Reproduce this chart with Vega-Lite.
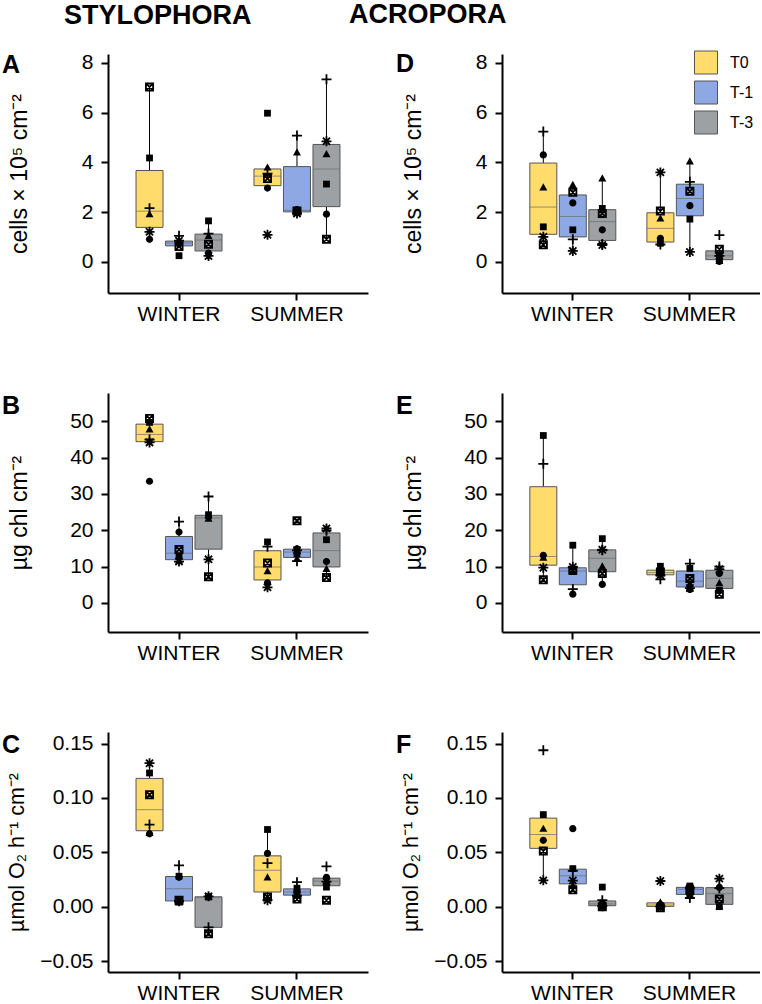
{
 "$schema": "https://vega.github.io/schema/vega-lite/v6.json",
 "background": "white",
 "padding": {"left": 2, "top": 0, "right": 0, "bottom": 0},
 "datasets": {
  "obs": [
   {"p":"A","s":"WINTER","t":"T0","i":"bx","v":7.03},{"p":"A","s":"WINTER","t":"T0","i":"sq","v":4.18},{"p":"A","s":"WINTER","t":"T0","i":"pl","v":2.16},{"p":"A","s":"WINTER","t":"T0","i":"tr","v":1.92},{"p":"A","s":"WINTER","t":"T0","i":"as","v":1.21},{"p":"A","s":"WINTER","t":"T0","i":"ci","v":0.91},
   {"p":"A","s":"WINTER","t":"T-1","i":"pl","v":1.05},{"p":"A","s":"WINTER","t":"T-1","i":"as","v":0.85},{"p":"A","s":"WINTER","t":"T-1","i":"tr","v":0.8},{"p":"A","s":"WINTER","t":"T-1","i":"ci","v":0.72},{"p":"A","s":"WINTER","t":"T-1","i":"bx","v":0.62},{"p":"A","s":"WINTER","t":"T-1","i":"sq","v":0.25},
   {"p":"A","s":"WINTER","t":"T-3","i":"sq","v":1.65},{"p":"A","s":"WINTER","t":"T-3","i":"pl","v":1.14},{"p":"A","s":"WINTER","t":"T-3","i":"tr","v":1.05},{"p":"A","s":"WINTER","t":"T-3","i":"bx","v":0.71},{"p":"A","s":"WINTER","t":"T-3","i":"ci","v":0.35},{"p":"A","s":"WINTER","t":"T-3","i":"as","v":0.24},
   {"p":"A","s":"SUMMER","t":"T0","i":"sq","v":5.98},{"p":"A","s":"SUMMER","t":"T0","i":"tr","v":3.8},{"p":"A","s":"SUMMER","t":"T0","i":"pl","v":3.55},{"p":"A","s":"SUMMER","t":"T0","i":"bx","v":3.35},{"p":"A","s":"SUMMER","t":"T0","i":"ci","v":2.97},{"p":"A","s":"SUMMER","t":"T0","i":"as","v":1.09},
   {"p":"A","s":"SUMMER","t":"T-1","i":"pl","v":5.08},{"p":"A","s":"SUMMER","t":"T-1","i":"tr","v":4.41},{"p":"A","s":"SUMMER","t":"T-1","i":"ci","v":2.1},{"p":"A","s":"SUMMER","t":"T-1","i":"bx","v":2.05},{"p":"A","s":"SUMMER","t":"T-1","i":"sq","v":2.0},{"p":"A","s":"SUMMER","t":"T-1","i":"as","v":1.95},
   {"p":"A","s":"SUMMER","t":"T-3","i":"pl","v":7.34},{"p":"A","s":"SUMMER","t":"T-3","i":"as","v":4.85},{"p":"A","s":"SUMMER","t":"T-3","i":"tr","v":4.34},{"p":"A","s":"SUMMER","t":"T-3","i":"sq","v":3.13},{"p":"A","s":"SUMMER","t":"T-3","i":"ci","v":1.92},{"p":"A","s":"SUMMER","t":"T-3","i":"bx","v":0.91},

   {"p":"D","s":"WINTER","t":"T0","i":"pl","v":5.24},{"p":"D","s":"WINTER","t":"T0","i":"ci","v":4.3},{"p":"D","s":"WINTER","t":"T0","i":"tr","v":3.0},{"p":"D","s":"WINTER","t":"T0","i":"sq","v":1.41},{"p":"D","s":"WINTER","t":"T0","i":"as","v":1.01},{"p":"D","s":"WINTER","t":"T0","i":"bx","v":0.69},
   {"p":"D","s":"WINTER","t":"T-1","i":"tr","v":3.1},{"p":"D","s":"WINTER","t":"T-1","i":"bx","v":2.8},{"p":"D","s":"WINTER","t":"T-1","i":"ci","v":2.37},{"p":"D","s":"WINTER","t":"T-1","i":"sq","v":1.29},{"p":"D","s":"WINTER","t":"T-1","i":"pl","v":0.91},{"p":"D","s":"WINTER","t":"T-1","i":"as","v":0.44},
   {"p":"D","s":"WINTER","t":"T-3","i":"tr","v":3.36},{"p":"D","s":"WINTER","t":"T-3","i":"sq","v":2.15},{"p":"D","s":"WINTER","t":"T-3","i":"bx","v":1.95},{"p":"D","s":"WINTER","t":"T-3","i":"ci","v":1.29},{"p":"D","s":"WINTER","t":"T-3","i":"pl","v":0.72},{"p":"D","s":"WINTER","t":"T-3","i":"as","v":0.68},
   {"p":"D","s":"SUMMER","t":"T0","i":"as","v":3.6},{"p":"D","s":"SUMMER","t":"T0","i":"bx","v":2.05},{"p":"D","s":"SUMMER","t":"T0","i":"tr","v":1.75},{"p":"D","s":"SUMMER","t":"T0","i":"ci","v":0.95},{"p":"D","s":"SUMMER","t":"T0","i":"sq","v":0.75},{"p":"D","s":"SUMMER","t":"T0","i":"pl","v":0.7},
   {"p":"D","s":"SUMMER","t":"T-1","i":"tr","v":4.05},{"p":"D","s":"SUMMER","t":"T-1","i":"pl","v":3.22},{"p":"D","s":"SUMMER","t":"T-1","i":"bx","v":2.84},{"p":"D","s":"SUMMER","t":"T-1","i":"ci","v":2.26},{"p":"D","s":"SUMMER","t":"T-1","i":"sq","v":1.72},{"p":"D","s":"SUMMER","t":"T-1","i":"as","v":0.4},
   {"p":"D","s":"SUMMER","t":"T-3","i":"pl","v":1.08},{"p":"D","s":"SUMMER","t":"T-3","i":"bx","v":0.51},{"p":"D","s":"SUMMER","t":"T-3","i":"sq","v":0.25},{"p":"D","s":"SUMMER","t":"T-3","i":"as","v":0.24},{"p":"D","s":"SUMMER","t":"T-3","i":"tr","v":0.04},{"p":"D","s":"SUMMER","t":"T-3","i":"ci","v":0.02},

   {"p":"B","s":"WINTER","t":"T0","i":"bx","v":50.8},{"p":"B","s":"WINTER","t":"T0","i":"sq","v":49.7},{"p":"B","s":"WINTER","t":"T0","i":"tr","v":47.8},{"p":"B","s":"WINTER","t":"T0","i":"pl","v":45.0},{"p":"B","s":"WINTER","t":"T0","i":"as","v":44.2},{"p":"B","s":"WINTER","t":"T0","i":"ci","v":33.5},
   {"p":"B","s":"WINTER","t":"T-1","i":"pl","v":22.4},{"p":"B","s":"WINTER","t":"T-1","i":"ci","v":19.5},{"p":"B","s":"WINTER","t":"T-1","i":"bx","v":14.7},{"p":"B","s":"WINTER","t":"T-1","i":"sq","v":12.7},{"p":"B","s":"WINTER","t":"T-1","i":"tr","v":11.65},{"p":"B","s":"WINTER","t":"T-1","i":"as","v":11.4},
   {"p":"B","s":"WINTER","t":"T-3","i":"pl","v":29.3},{"p":"B","s":"WINTER","t":"T-3","i":"sq","v":24.3},{"p":"B","s":"WINTER","t":"T-3","i":"ci","v":23.6},{"p":"B","s":"WINTER","t":"T-3","i":"tr","v":23.2},{"p":"B","s":"WINTER","t":"T-3","i":"as","v":12.0},{"p":"B","s":"WINTER","t":"T-3","i":"bx","v":7.2},
   {"p":"B","s":"SUMMER","t":"T0","i":"sq","v":16.8},{"p":"B","s":"SUMMER","t":"T0","i":"pl","v":15.5},{"p":"B","s":"SUMMER","t":"T0","i":"bx","v":11.0},{"p":"B","s":"SUMMER","t":"T0","i":"tr","v":8.8},{"p":"B","s":"SUMMER","t":"T0","i":"ci","v":5.5},{"p":"B","s":"SUMMER","t":"T0","i":"as","v":4.3},
   {"p":"B","s":"SUMMER","t":"T-1","i":"bx","v":22.6},{"p":"B","s":"SUMMER","t":"T-1","i":"ci","v":14.9},{"p":"B","s":"SUMMER","t":"T-1","i":"as","v":14.5},{"p":"B","s":"SUMMER","t":"T-1","i":"sq","v":13.5},{"p":"B","s":"SUMMER","t":"T-1","i":"tr","v":12.2},{"p":"B","s":"SUMMER","t":"T-1","i":"pl","v":11.5},
   {"p":"B","s":"SUMMER","t":"T-3","i":"as","v":20.5},{"p":"B","s":"SUMMER","t":"T-3","i":"pl","v":19.9},{"p":"B","s":"SUMMER","t":"T-3","i":"sq","v":17.4},{"p":"B","s":"SUMMER","t":"T-3","i":"ci","v":11.4},{"p":"B","s":"SUMMER","t":"T-3","i":"tr","v":9.4},{"p":"B","s":"SUMMER","t":"T-3","i":"bx","v":7.0},

   {"p":"E","s":"WINTER","t":"T0","i":"sq","v":46.1},{"p":"E","s":"WINTER","t":"T0","i":"pl","v":38.3},{"p":"E","s":"WINTER","t":"T0","i":"ci","v":13.1},{"p":"E","s":"WINTER","t":"T0","i":"tr","v":12.5},{"p":"E","s":"WINTER","t":"T0","i":"as","v":9.7},{"p":"E","s":"WINTER","t":"T0","i":"bx","v":6.4},
   {"p":"E","s":"WINTER","t":"T-1","i":"sq","v":15.9},{"p":"E","s":"WINTER","t":"T-1","i":"as","v":9.9},{"p":"E","s":"WINTER","t":"T-1","i":"bx","v":9.0},{"p":"E","s":"WINTER","t":"T-1","i":"tr","v":8.6},{"p":"E","s":"WINTER","t":"T-1","i":"pl","v":3.8},{"p":"E","s":"WINTER","t":"T-1","i":"ci","v":2.4},
   {"p":"E","s":"WINTER","t":"T-3","i":"sq","v":17.7},{"p":"E","s":"WINTER","t":"T-3","i":"as","v":14.65},{"p":"E","s":"WINTER","t":"T-3","i":"pl","v":14.5},{"p":"E","s":"WINTER","t":"T-3","i":"tr","v":10.1},{"p":"E","s":"WINTER","t":"T-3","i":"bx","v":8.1},{"p":"E","s":"WINTER","t":"T-3","i":"ci","v":5.1},
   {"p":"E","s":"SUMMER","t":"T0","i":"sq","v":10.1},{"p":"E","s":"SUMMER","t":"T0","i":"ci","v":9.2},{"p":"E","s":"SUMMER","t":"T0","i":"bx","v":8.5},{"p":"E","s":"SUMMER","t":"T0","i":"tr","v":8.2},{"p":"E","s":"SUMMER","t":"T0","i":"as","v":7.6},{"p":"E","s":"SUMMER","t":"T0","i":"pl","v":6.5},
   {"p":"E","s":"SUMMER","t":"T-1","i":"pl","v":10.8},{"p":"E","s":"SUMMER","t":"T-1","i":"sq","v":9.5},{"p":"E","s":"SUMMER","t":"T-1","i":"bx","v":6.7},{"p":"E","s":"SUMMER","t":"T-1","i":"tr","v":5.3},{"p":"E","s":"SUMMER","t":"T-1","i":"as","v":4.1},{"p":"E","s":"SUMMER","t":"T-1","i":"ci","v":3.7},
   {"p":"E","s":"SUMMER","t":"T-3","i":"pl","v":10.0},{"p":"E","s":"SUMMER","t":"T-3","i":"as","v":9.3},{"p":"E","s":"SUMMER","t":"T-3","i":"ci","v":8.1},{"p":"E","s":"SUMMER","t":"T-3","i":"tr","v":5.5},{"p":"E","s":"SUMMER","t":"T-3","i":"sq","v":3.5},{"p":"E","s":"SUMMER","t":"T-3","i":"bx","v":2.4},

   {"p":"C","s":"WINTER","t":"T0","i":"as","v":0.132},{"p":"C","s":"WINTER","t":"T0","i":"sq","v":0.123},{"p":"C","s":"WINTER","t":"T0","i":"bx","v":0.103},{"p":"C","s":"WINTER","t":"T0","i":"pl","v":0.0755},{"p":"C","s":"WINTER","t":"T0","i":"tr","v":0.068},{"p":"C","s":"WINTER","t":"T0","i":"ci","v":0.067},
   {"p":"C","s":"WINTER","t":"T-1","i":"pl","v":0.038},{"p":"C","s":"WINTER","t":"T-1","i":"sq","v":0.028},{"p":"C","s":"WINTER","t":"T-1","i":"ci","v":0.027},{"p":"C","s":"WINTER","t":"T-1","i":"bx","v":0.006},{"p":"C","s":"WINTER","t":"T-1","i":"as","v":0.005},{"p":"C","s":"WINTER","t":"T-1","i":"tr","v":0.004},
   {"p":"C","s":"WINTER","t":"T-3","i":"as","v":0.0095},{"p":"C","s":"WINTER","t":"T-3","i":"ci","v":0.009},{"p":"C","s":"WINTER","t":"T-3","i":"sq","v":0.009},{"p":"C","s":"WINTER","t":"T-3","i":"pl","v":-0.019},{"p":"C","s":"WINTER","t":"T-3","i":"bx","v":-0.025},
   {"p":"C","s":"SUMMER","t":"T0","i":"sq","v":0.071},{"p":"C","s":"SUMMER","t":"T0","i":"ci","v":0.049},{"p":"C","s":"SUMMER","t":"T0","i":"pl","v":0.04},{"p":"C","s":"SUMMER","t":"T0","i":"tr","v":0.027},{"p":"C","s":"SUMMER","t":"T0","i":"bx","v":0.009},{"p":"C","s":"SUMMER","t":"T0","i":"as","v":0.006},
   {"p":"C","s":"SUMMER","t":"T-1","i":"pl","v":0.0225},{"p":"C","s":"SUMMER","t":"T-1","i":"sq","v":0.017},{"p":"C","s":"SUMMER","t":"T-1","i":"ci","v":0.0145},{"p":"C","s":"SUMMER","t":"T-1","i":"tr","v":0.0125},{"p":"C","s":"SUMMER","t":"T-1","i":"as","v":0.01},{"p":"C","s":"SUMMER","t":"T-1","i":"bx","v":0.007},
   {"p":"C","s":"SUMMER","t":"T-3","i":"pl","v":0.037},{"p":"C","s":"SUMMER","t":"T-3","i":"ci","v":0.027},{"p":"C","s":"SUMMER","t":"T-3","i":"tr","v":0.024},{"p":"C","s":"SUMMER","t":"T-3","i":"as","v":0.023},{"p":"C","s":"SUMMER","t":"T-3","i":"sq","v":0.018},{"p":"C","s":"SUMMER","t":"T-3","i":"bx","v":0.006},

   {"p":"F","s":"WINTER","t":"T0","i":"pl","v":0.1439},{"p":"F","s":"WINTER","t":"T0","i":"sq","v":0.0847},{"p":"F","s":"WINTER","t":"T0","i":"tr","v":0.0718},{"p":"F","s":"WINTER","t":"T0","i":"ci","v":0.061},{"p":"F","s":"WINTER","t":"T0","i":"bx","v":0.0512},{"p":"F","s":"WINTER","t":"T0","i":"as","v":0.0242},
   {"p":"F","s":"WINTER","t":"T-1","i":"ci","v":0.0718},{"p":"F","s":"WINTER","t":"T-1","i":"sq","v":0.035},{"p":"F","s":"WINTER","t":"T-1","i":"pl","v":0.033},{"p":"F","s":"WINTER","t":"T-1","i":"as","v":0.024},{"p":"F","s":"WINTER","t":"T-1","i":"tr","v":0.02},{"p":"F","s":"WINTER","t":"T-1","i":"bx","v":0.0156},
   {"p":"F","s":"WINTER","t":"T-3","i":"sq","v":0.018},{"p":"F","s":"WINTER","t":"T-3","i":"pl","v":0.006},{"p":"F","s":"WINTER","t":"T-3","i":"ci","v":0.003},{"p":"F","s":"WINTER","t":"T-3","i":"tr","v":0.002},{"p":"F","s":"WINTER","t":"T-3","i":"as","v":0.0005},{"p":"F","s":"WINTER","t":"T-3","i":"bx","v":0.0},
   {"p":"F","s":"SUMMER","t":"T0","i":"as","v":0.0236},{"p":"F","s":"SUMMER","t":"T0","i":"tr","v":0.004},{"p":"F","s":"SUMMER","t":"T0","i":"ci","v":0.002},{"p":"F","s":"SUMMER","t":"T0","i":"sq","v":0.001},{"p":"F","s":"SUMMER","t":"T0","i":"pl","v":0.0},{"p":"F","s":"SUMMER","t":"T0","i":"bx","v":-0.001},
   {"p":"F","s":"SUMMER","t":"T-1","i":"sq","v":0.019},{"p":"F","s":"SUMMER","t":"T-1","i":"tr","v":0.018},{"p":"F","s":"SUMMER","t":"T-1","i":"as","v":0.017},{"p":"F","s":"SUMMER","t":"T-1","i":"bx","v":0.015},{"p":"F","s":"SUMMER","t":"T-1","i":"ci","v":0.01},{"p":"F","s":"SUMMER","t":"T-1","i":"pl","v":0.008},
   {"p":"F","s":"SUMMER","t":"T-3","i":"as","v":0.0258},{"p":"F","s":"SUMMER","t":"T-3","i":"ci","v":0.0177},{"p":"F","s":"SUMMER","t":"T-3","i":"pl","v":0.017},{"p":"F","s":"SUMMER","t":"T-3","i":"bx","v":0.007},{"p":"F","s":"SUMMER","t":"T-3","i":"tr","v":0.0005},{"p":"F","s":"SUMMER","t":"T-3","i":"sq","v":0.0}
  ],
  "let": [
   {"p":"A","s":"WINTER","t":"T0","l":"a"},{"p":"A","s":"WINTER","t":"T-1","l":"b"},{"p":"A","s":"WINTER","t":"T-3","l":"b"},
   {"p":"D","s":"SUMMER","t":"T0","l":"a"},{"p":"D","s":"SUMMER","t":"T-1","l":"a"},{"p":"D","s":"SUMMER","t":"T-3","l":"b"},
   {"p":"B","s":"WINTER","t":"T0","l":"a"},{"p":"B","s":"WINTER","t":"T-1","l":"a"},{"p":"B","s":"WINTER","t":"T-3","l":"b"},
   {"p":"C","s":"WINTER","t":"T0","l":"a"},{"p":"C","s":"WINTER","t":"T-1","l":"b"},{"p":"C","s":"WINTER","t":"T-3","l":"b"},
   {"p":"F","s":"WINTER","t":"T0","l":"a"},{"p":"F","s":"WINTER","t":"T-1","l":"b"},{"p":"F","s":"WINTER","t":"T-3","l":"b"}
  ]
 },
 "config": {
  "font": "Liberation Sans",
  "view": {"stroke": null},
  "axis": {"domainColor": "black", "domainWidth": 2, "tickColor": "black", "tickWidth": 2, "tickSize": 7, "labelColor": "black", "labelFont": "Liberation Sans", "labelFontSize": 21, "grid": false, "titleColor": "black", "titleFont": "Liberation Sans", "titleFontSize": 22, "titleFontWeight": "normal"},
  "axisX": {"labelAngle": 0, "labelPadding": 3},
  "axisY": {"labelPadding": 8},
  "title": {"color": "black"}
 },
 "spacing": -19,
 "resolve": {"scale": {"color": "independent", "shape": "independent"}},
 "hconcat": [
  {
   "title": {"text": "STYLOPHORA", "anchor": "start", "frame": "bounds", "dx": 62, "fontSize": 27, "fontWeight": "bold", "font": "Liberation Sans", "color": "black", "offset": 22},
   "spacing": 69,
   "resolve": {"scale": {"color": "independent", "shape": "independent"}},
   "vconcat": [
    {
     "width": 260, "height": 239,
     "title": {"text": "A", "anchor": "start", "frame": "group", "dx": -106, "fontSize": 25, "fontWeight": "bold", "color": "black", "offset": -26},
     "data": {"name": "obs"},
     "transform": [{"filter": "datum.p === 'A'"}],
     "encoding": {
      "x": {"field": "s", "type": "nominal", "title": null, "scale": {"domain": ["WINTER", "SUMMER"], "paddingInner": 0.25, "paddingOuter": 0.227}},
      "xOffset": {"field": "t", "type": "nominal", "scale": {"domain": ["T0", "T-1", "T-3"], "paddingInner": 0, "paddingOuter": 0}},
      "y": {"field": "v", "type": "quantitative", "title": "cells × 10⁵ cm⁻²", "scale": {"domain": [-1.25, 8.36], "nice": false, "zero": false}, "axis": {"values": [0, 2, 4, 6, 8], "titlePadding": 50, "titleFontSize": 23}}
     },
     "layer": [
      {"mark": {"type": "boxplot", "extent": 1.5, "outliers": false, "ticks": false, "size": 27, "box": {"stroke": "#555555", "strokeWidth": 1}, "median": {"color": "#6b6b6b"}, "rule": {"color": "black", "strokeWidth": 1}},
       "encoding": {"color": {"field": "t", "type": "nominal", "scale": {"domain": ["T0", "T-1", "T-3"], "range": ["#FFDC6C", "#8DA8E3", "#9EA1A4"]}, "legend": null}}},
      {"transform": [{"filter": "indexof(['sq','ci','tr'], datum.i) >= 0"}],
       "mark": {"type": "point", "filled": true, "color": "black", "opacity": 1, "size": 64},
       "encoding": {"shape": {"field": "i", "type": "nominal", "legend": null, "scale": {"domain": ["sq", "ci", "tr", "pl", "as", "bx"], "range": ["M-0.85,-0.85H0.85V0.85H-0.85Z", "M0.9,0A0.9,0.9 0 1,1 -0.9,0A0.9,0.9 0 1,1 0.9,0Z", "M0,-1L1,0.8H-1Z", "M-1.25,0H1.25M0,-1.25V1.25", "M-1.25,0H1.25M0,-1.25V1.25M-0.9,-0.9L0.9,0.9M-0.9,0.9L0.9,-0.9", "M-0.9,-0.9H0.9V0.9H-0.9ZM-0.9,-0.9L0.9,0.9M-0.9,0.9L0.9,-0.9"]}}}},
      {"transform": [{"filter": "indexof(['pl','as','bx'], datum.i) >= 0"}],
       "mark": {"type": "point", "filled": false, "color": "black", "opacity": 1, "size": 64, "strokeWidth": 1.8},
       "encoding": {"shape": {"field": "i", "type": "nominal", "legend": null}}},
      {"data": {"name": "let"}, "transform": [{"filter": "datum.p === 'A'"}],
       "mark": {"type": "text", "fontSize": 16, "color": "black"},
       "encoding": {"y": {"datum": -0.71}, "text": {"field": "l"}}}
     ]
    },
    {
     "width": 260, "height": 239,
     "title": {"text": "B", "anchor": "start", "frame": "group", "dx": -106, "fontSize": 25, "fontWeight": "bold", "color": "black", "offset": -26},
     "data": {"name": "obs"},
     "transform": [{"filter": "datum.p === 'B'"}],
     "encoding": {
      "x": {"field": "s", "type": "nominal", "title": null, "scale": {"domain": ["WINTER", "SUMMER"], "paddingInner": 0.25, "paddingOuter": 0.227}},
      "xOffset": {"field": "t", "type": "nominal", "scale": {"domain": ["T0", "T-1", "T-3"], "paddingInner": 0, "paddingOuter": 0}},
      "y": {"field": "v", "type": "quantitative", "title": "µg chl cm⁻²", "scale": {"domain": [-8, 57.8], "nice": false, "zero": false}, "axis": {"values": [0, 10, 20, 30, 40, 50], "titlePadding": 38, "titleFontSize": 23}}
     },
     "layer": [
      {"mark": {"type": "boxplot", "extent": 1.5, "outliers": false, "ticks": false, "size": 27, "box": {"stroke": "#555555", "strokeWidth": 1}, "median": {"color": "#6b6b6b"}, "rule": {"color": "black", "strokeWidth": 1}},
       "encoding": {"color": {"field": "t", "type": "nominal", "scale": {"domain": ["T0", "T-1", "T-3"], "range": ["#FFDC6C", "#8DA8E3", "#9EA1A4"]}, "legend": null}}},
      {"transform": [{"filter": "indexof(['sq','ci','tr'], datum.i) >= 0"}],
       "mark": {"type": "point", "filled": true, "color": "black", "opacity": 1, "size": 64},
       "encoding": {"shape": {"field": "i", "type": "nominal", "legend": null, "scale": {"domain": ["sq", "ci", "tr", "pl", "as", "bx"], "range": ["M-0.85,-0.85H0.85V0.85H-0.85Z", "M0.9,0A0.9,0.9 0 1,1 -0.9,0A0.9,0.9 0 1,1 0.9,0Z", "M0,-1L1,0.8H-1Z", "M-1.25,0H1.25M0,-1.25V1.25", "M-1.25,0H1.25M0,-1.25V1.25M-0.9,-0.9L0.9,0.9M-0.9,0.9L0.9,-0.9", "M-0.9,-0.9H0.9V0.9H-0.9ZM-0.9,-0.9L0.9,0.9M-0.9,0.9L0.9,-0.9"]}}}},
      {"transform": [{"filter": "indexof(['pl','as','bx'], datum.i) >= 0"}],
       "mark": {"type": "point", "filled": false, "color": "black", "opacity": 1, "size": 64, "strokeWidth": 1.8},
       "encoding": {"shape": {"field": "i", "type": "nominal", "legend": null}}},
      {"data": {"name": "let"}, "transform": [{"filter": "datum.p === 'B'"}],
       "mark": {"type": "text", "fontSize": 16, "color": "black"},
       "encoding": {"y": {"datum": -2.67}, "text": {"field": "l"}}}
     ]
    },
    {
     "width": 260, "height": 240,
     "title": {"text": "C", "anchor": "start", "frame": "group", "dx": -106, "fontSize": 25, "fontWeight": "bold", "color": "black", "offset": -26},
     "data": {"name": "obs"},
     "transform": [{"filter": "datum.p === 'C'"}],
     "encoding": {
      "x": {"field": "s", "type": "nominal", "title": null, "scale": {"domain": ["WINTER", "SUMMER"], "paddingInner": 0.25, "paddingOuter": 0.227}},
      "xOffset": {"field": "t", "type": "nominal", "scale": {"domain": ["T0", "T-1", "T-3"], "paddingInner": 0, "paddingOuter": 0}},
      "y": {"field": "v", "type": "quantitative", "title": "µmol O₂ h⁻¹ cm⁻²", "scale": {"domain": [-0.0601, 0.1607], "nice": false, "zero": false}, "axis": {"values": [-0.05, 0, 0.05, 0.1, 0.15], "format": ".2f", "titlePadding": 11, "titleFontSize": 21.5}}
     },
     "layer": [
      {"mark": {"type": "boxplot", "extent": 1.5, "outliers": false, "ticks": false, "size": 27, "box": {"stroke": "#555555", "strokeWidth": 1}, "median": {"color": "#6b6b6b"}, "rule": {"color": "black", "strokeWidth": 1}},
       "encoding": {"color": {"field": "t", "type": "nominal", "scale": {"domain": ["T0", "T-1", "T-3"], "range": ["#FFDC6C", "#8DA8E3", "#9EA1A4"]}, "legend": null}}},
      {"transform": [{"filter": "indexof(['sq','ci','tr'], datum.i) >= 0"}],
       "mark": {"type": "point", "filled": true, "color": "black", "opacity": 1, "size": 64},
       "encoding": {"shape": {"field": "i", "type": "nominal", "legend": null, "scale": {"domain": ["sq", "ci", "tr", "pl", "as", "bx"], "range": ["M-0.85,-0.85H0.85V0.85H-0.85Z", "M0.9,0A0.9,0.9 0 1,1 -0.9,0A0.9,0.9 0 1,1 0.9,0Z", "M0,-1L1,0.8H-1Z", "M-1.25,0H1.25M0,-1.25V1.25", "M-1.25,0H1.25M0,-1.25V1.25M-0.9,-0.9L0.9,0.9M-0.9,0.9L0.9,-0.9", "M-0.9,-0.9H0.9V0.9H-0.9ZM-0.9,-0.9L0.9,0.9M-0.9,0.9L0.9,-0.9"]}}}},
      {"transform": [{"filter": "indexof(['pl','as','bx'], datum.i) >= 0"}],
       "mark": {"type": "point", "filled": false, "color": "black", "opacity": 1, "size": 64, "strokeWidth": 1.8},
       "encoding": {"shape": {"field": "i", "type": "nominal", "legend": null}}},
      {"data": {"name": "let"}, "transform": [{"filter": "datum.p === 'C'"}],
       "mark": {"type": "text", "fontSize": 16, "color": "black"},
       "encoding": {"y": {"datum": -0.0423}, "text": {"field": "l"}}}
     ]
    }
   ]
  },
  {
   "title": {"text": "ACROPORA", "anchor": "start", "frame": "bounds", "dx": -47, "fontSize": 27, "fontWeight": "bold", "font": "Liberation Sans", "color": "black", "offset": 22},
   "spacing": 69,
   "resolve": {"scale": {"color": "independent", "shape": "independent"}},
   "vconcat": [
    {
     "width": 258, "height": 239,
     "title": {"text": "D", "anchor": "start", "frame": "group", "dx": -106, "fontSize": 25, "fontWeight": "bold", "color": "black", "offset": -26},
     "data": {"name": "obs"},
     "transform": [{"filter": "datum.p === 'D'"}],
     "encoding": {
      "x": {"field": "s", "type": "nominal", "title": null, "scale": {"domain": ["WINTER", "SUMMER"], "paddingInner": 0.25, "paddingOuter": 0.227}},
      "xOffset": {"field": "t", "type": "nominal", "scale": {"domain": ["T0", "T-1", "T-3"], "paddingInner": 0, "paddingOuter": 0}},
      "y": {"field": "v", "type": "quantitative", "title": "cells × 10⁵ cm⁻²", "scale": {"domain": [-1.25, 8.36], "nice": false, "zero": false}, "axis": {"values": [0, 2, 4, 6, 8], "titlePadding": 50, "titleFontSize": 23}}
     },
     "layer": [
      {"mark": {"type": "boxplot", "extent": 1.5, "outliers": false, "ticks": false, "size": 27, "box": {"stroke": "#555555", "strokeWidth": 1}, "median": {"color": "#6b6b6b"}, "rule": {"color": "black", "strokeWidth": 1}},
       "encoding": {"color": {"field": "t", "type": "nominal", "scale": {"domain": ["T0", "T-1", "T-3"], "range": ["#FFDC6C", "#8DA8E3", "#9EA1A4"]},
        "legend": {"title": null, "orient": "none", "legendX": 192, "legendY": -3.5, "padding": 0, "symbolType": "square", "symbolSize": 529, "symbolStrokeColor": "#555555", "symbolStrokeWidth": 1, "symbolOpacity": 1, "labelFontSize": 16, "labelColor": "black", "labelFont": "Liberation Sans", "labelOffset": 12, "rowPadding": 2,
         "encode": {"symbols": {"update": {"stroke": {"value": "#555555"}, "strokeWidth": {"value": 1}}}}}}}},
      {"transform": [{"filter": "indexof(['sq','ci','tr'], datum.i) >= 0"}],
       "mark": {"type": "point", "filled": true, "color": "black", "opacity": 1, "size": 64},
       "encoding": {"shape": {"field": "i", "type": "nominal", "legend": null, "scale": {"domain": ["sq", "ci", "tr", "pl", "as", "bx"], "range": ["M-0.85,-0.85H0.85V0.85H-0.85Z", "M0.9,0A0.9,0.9 0 1,1 -0.9,0A0.9,0.9 0 1,1 0.9,0Z", "M0,-1L1,0.8H-1Z", "M-1.25,0H1.25M0,-1.25V1.25", "M-1.25,0H1.25M0,-1.25V1.25M-0.9,-0.9L0.9,0.9M-0.9,0.9L0.9,-0.9", "M-0.9,-0.9H0.9V0.9H-0.9ZM-0.9,-0.9L0.9,0.9M-0.9,0.9L0.9,-0.9"]}}}},
      {"transform": [{"filter": "indexof(['pl','as','bx'], datum.i) >= 0"}],
       "mark": {"type": "point", "filled": false, "color": "black", "opacity": 1, "size": 64, "strokeWidth": 1.8},
       "encoding": {"shape": {"field": "i", "type": "nominal", "legend": null}}},
      {"data": {"name": "let"}, "transform": [{"filter": "datum.p === 'D'"}],
       "mark": {"type": "text", "fontSize": 16, "color": "black"},
       "encoding": {"y": {"datum": -0.71}, "text": {"field": "l"}}}
     ]
    },
    {
     "width": 258, "height": 239,
     "title": {"text": "E", "anchor": "start", "frame": "group", "dx": -106, "fontSize": 25, "fontWeight": "bold", "color": "black", "offset": -26},
     "data": {"name": "obs"},
     "transform": [{"filter": "datum.p === 'E'"}],
     "encoding": {
      "x": {"field": "s", "type": "nominal", "title": null, "scale": {"domain": ["WINTER", "SUMMER"], "paddingInner": 0.25, "paddingOuter": 0.227}},
      "xOffset": {"field": "t", "type": "nominal", "scale": {"domain": ["T0", "T-1", "T-3"], "paddingInner": 0, "paddingOuter": 0}},
      "y": {"field": "v", "type": "quantitative", "title": "µg chl cm⁻²", "scale": {"domain": [-8, 57.8], "nice": false, "zero": false}, "axis": {"values": [0, 10, 20, 30, 40, 50], "titlePadding": 38, "titleFontSize": 23}}
     },
     "layer": [
      {"mark": {"type": "boxplot", "extent": 1.5, "outliers": false, "ticks": false, "size": 27, "box": {"stroke": "#555555", "strokeWidth": 1}, "median": {"color": "#6b6b6b"}, "rule": {"color": "black", "strokeWidth": 1}},
       "encoding": {"color": {"field": "t", "type": "nominal", "scale": {"domain": ["T0", "T-1", "T-3"], "range": ["#FFDC6C", "#8DA8E3", "#9EA1A4"]}, "legend": null}}},
      {"transform": [{"filter": "indexof(['sq','ci','tr'], datum.i) >= 0"}],
       "mark": {"type": "point", "filled": true, "color": "black", "opacity": 1, "size": 64},
       "encoding": {"shape": {"field": "i", "type": "nominal", "legend": null, "scale": {"domain": ["sq", "ci", "tr", "pl", "as", "bx"], "range": ["M-0.85,-0.85H0.85V0.85H-0.85Z", "M0.9,0A0.9,0.9 0 1,1 -0.9,0A0.9,0.9 0 1,1 0.9,0Z", "M0,-1L1,0.8H-1Z", "M-1.25,0H1.25M0,-1.25V1.25", "M-1.25,0H1.25M0,-1.25V1.25M-0.9,-0.9L0.9,0.9M-0.9,0.9L0.9,-0.9", "M-0.9,-0.9H0.9V0.9H-0.9ZM-0.9,-0.9L0.9,0.9M-0.9,0.9L0.9,-0.9"]}}}},
      {"transform": [{"filter": "indexof(['pl','as','bx'], datum.i) >= 0"}],
       "mark": {"type": "point", "filled": false, "color": "black", "opacity": 1, "size": 64, "strokeWidth": 1.8},
       "encoding": {"shape": {"field": "i", "type": "nominal", "legend": null}}}
     ]
    },
    {
     "width": 258, "height": 240,
     "title": {"text": "F", "anchor": "start", "frame": "group", "dx": -106, "fontSize": 25, "fontWeight": "bold", "color": "black", "offset": -26},
     "data": {"name": "obs"},
     "transform": [{"filter": "datum.p === 'F'"}],
     "encoding": {
      "x": {"field": "s", "type": "nominal", "title": null, "scale": {"domain": ["WINTER", "SUMMER"], "paddingInner": 0.25, "paddingOuter": 0.227}},
      "xOffset": {"field": "t", "type": "nominal", "scale": {"domain": ["T0", "T-1", "T-3"], "paddingInner": 0, "paddingOuter": 0}},
      "y": {"field": "v", "type": "quantitative", "title": "µmol O₂ h⁻¹ cm⁻²", "scale": {"domain": [-0.0601, 0.1607], "nice": false, "zero": false}, "axis": {"values": [-0.05, 0, 0.05, 0.1, 0.15], "format": ".2f", "titlePadding": 11, "titleFontSize": 21.5}}
     },
     "layer": [
      {"mark": {"type": "boxplot", "extent": 1.5, "outliers": false, "ticks": false, "size": 27, "box": {"stroke": "#555555", "strokeWidth": 1}, "median": {"color": "#6b6b6b"}, "rule": {"color": "black", "strokeWidth": 1}},
       "encoding": {"color": {"field": "t", "type": "nominal", "scale": {"domain": ["T0", "T-1", "T-3"], "range": ["#FFDC6C", "#8DA8E3", "#9EA1A4"]}, "legend": null}}},
      {"transform": [{"filter": "indexof(['sq','ci','tr'], datum.i) >= 0"}],
       "mark": {"type": "point", "filled": true, "color": "black", "opacity": 1, "size": 64},
       "encoding": {"shape": {"field": "i", "type": "nominal", "legend": null, "scale": {"domain": ["sq", "ci", "tr", "pl", "as", "bx"], "range": ["M-0.85,-0.85H0.85V0.85H-0.85Z", "M0.9,0A0.9,0.9 0 1,1 -0.9,0A0.9,0.9 0 1,1 0.9,0Z", "M0,-1L1,0.8H-1Z", "M-1.25,0H1.25M0,-1.25V1.25", "M-1.25,0H1.25M0,-1.25V1.25M-0.9,-0.9L0.9,0.9M-0.9,0.9L0.9,-0.9", "M-0.9,-0.9H0.9V0.9H-0.9ZM-0.9,-0.9L0.9,0.9M-0.9,0.9L0.9,-0.9"]}}}},
      {"transform": [{"filter": "indexof(['pl','as','bx'], datum.i) >= 0"}],
       "mark": {"type": "point", "filled": false, "color": "black", "opacity": 1, "size": 64, "strokeWidth": 1.8},
       "encoding": {"shape": {"field": "i", "type": "nominal", "legend": null}}},
      {"data": {"name": "let"}, "transform": [{"filter": "datum.p === 'F'"}],
       "mark": {"type": "text", "fontSize": 16, "color": "black"},
       "encoding": {"y": {"datum": -0.0423}, "text": {"field": "l"}}}
     ]
    }
   ]
  }
 ]
}
